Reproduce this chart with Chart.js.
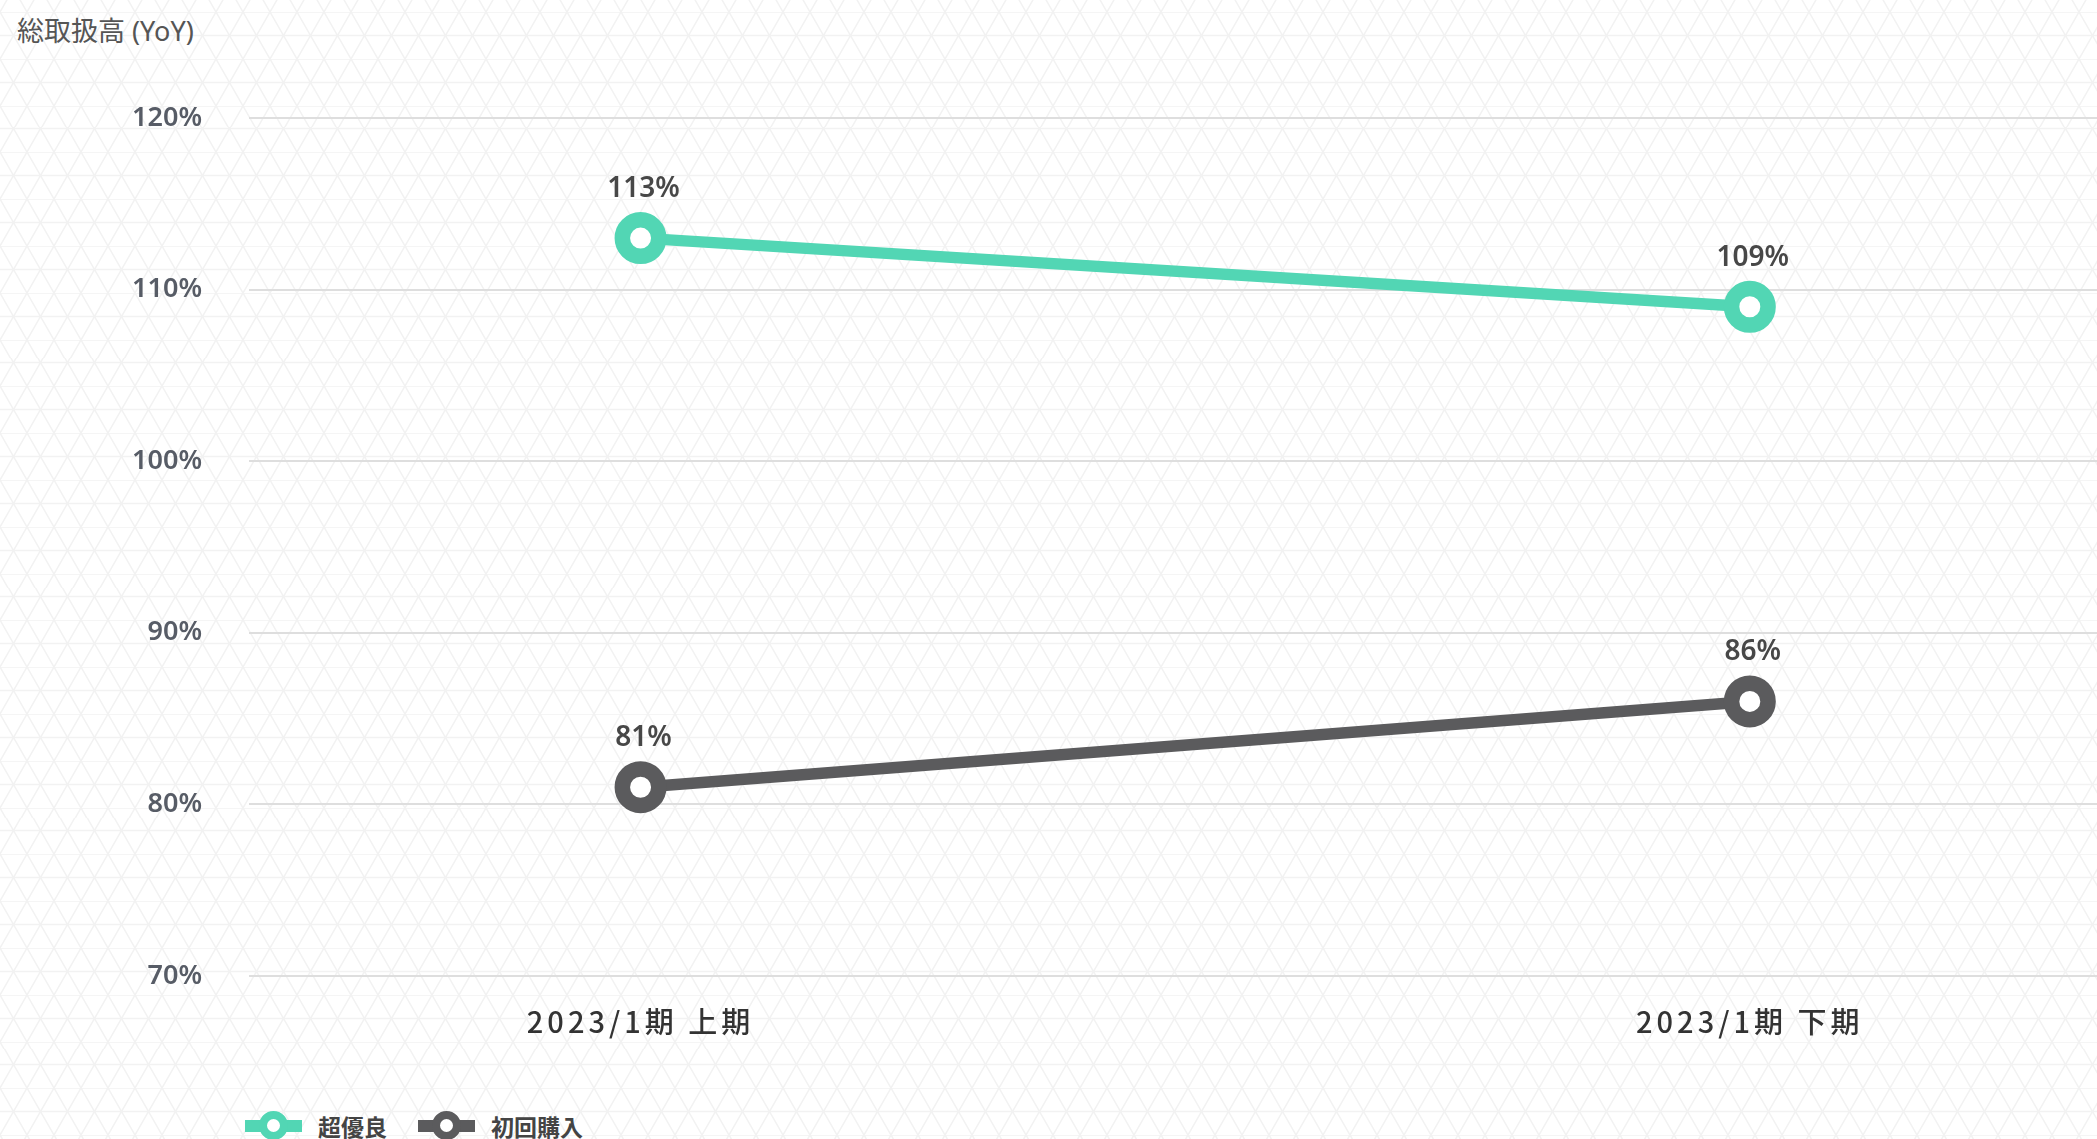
<!DOCTYPE html>
<html lang="ja">
<head>
  <meta charset="UTF-8">
  <meta name="viewport" content="width=device-width, initial-scale=1.0">
  <script src="https://cdn.jsdelivr.net/npm/chart.js"></script>
  <title>総取扱高 (YoY)</title>
  <style>
    html, body { margin: 0; padding: 0; overflow: hidden; }
    body {
      width: 2097px; height: 1139px;
      background-color: #fff;
      background-image: url("data:image/svg+xml,%3Csvg xmlns='http://www.w3.org/2000/svg' width='27' height='46.8'%3E%3Cpath d='M0 0H27M0 23.4H27M0 0L27 46.8M27 0L0 46.8' stroke='%23f2f2f2' stroke-width='1.5' fill='none'/%3E%3C/svg%3E");
      background-position: 0 12px;
      font-family: "Noto Sans", "Noto Sans CJK JP", sans-serif;
    }
    .wrap { position: relative; width: 2097px; height: 1139px; }
    #title { position: absolute; left: 17px; top: 12px; font-size: 27px; line-height: 38px; color: #555; }
    #chart { position: absolute; left: 0; top: 0; }
    #legend { position: absolute; left: 245px; top: 1111px; display: flex; align-items: center; }
    .item { display: flex; align-items: center; margin-right: 31px; }
    .mark { position: relative; width: 57px; height: 30px; margin-right: 16px; }
    .mark .bar { position: absolute; left: 0; right: 0; top: 9px; height: 12px; }
    .mark .dot { position: absolute; left: 13.5px; top: 0; width: 13px; height: 13px; border: 8.5px solid; border-radius: 50%; background: #fff; }
    .item span { font-family: "Noto Sans CJK JP", sans-serif; font-size: 23px; line-height: 30px; font-weight: 700; color: #444; }
  </style>
</head>
<body>
  <div class="wrap">
    <div id="title">総取扱高 (YoY)</div>
    <canvas id="chart" width="2097" height="1060"></canvas>
    <div id="legend"></div>
  </div>
  <script>
    const categories = ['2023/1期 上期', '2023/1期 下期']
    const seriesNames = ['超優良', '初回購入']
    const superGood = [113, 109]
    const firstPurchase = [81, 86]
    const yTicks = [70, 80, 90, 100, 110, 120]
    const colors = ['#52d6b4', '#5b5b5d']

    const numFont = '"Noto Sans", "Noto Sans CJK JP", sans-serif'

    // value text above every point
    const valueLabels = {
      id: 'valueLabels',
      afterDatasetsDraw(chart) {
        const ctx = chart.ctx
        ctx.save()
        ctx.font = '600 28px ' + numFont
        ctx.fillStyle = '#474747'
        ctx.textAlign = 'center'
        ctx.textBaseline = 'middle'
        chart.data.datasets.forEach((ds, di) => {
          chart.getDatasetMeta(di).data.forEach((pt, i) => {
            ctx.fillText(ds.data[i].y + '%', pt.x + 3, pt.y - 49)
          })
        })
        ctx.restore()
      }
    }

    // spread out the category labels a little
    const spacedTicks = {
      id: 'spacedTicks',
      beforeDraw(chart) {
        const sx = chart.scales.x
        if (sx.$spaced) return
        const draw = sx.drawLabels
        sx.drawLabels = function (area) {
          this.ctx.save()
          this.ctx.letterSpacing = '4px'
          draw.call(this, area)
          this.ctx.restore()
        }
        sx.$spaced = true
      }
    }

    function series(values, i) {
      return {
        label: seriesNames[i],
        data: values.map((v, x) => ({ x, y: v })),
        borderColor: colors[i],
        borderWidth: 11.5,
        tension: 0,
        pointRadius: 18.25,
        pointHoverRadius: 18.25,
        pointBorderWidth: 15.5,
        pointBorderColor: colors[i],
        pointBackgroundColor: '#fff'
      }
    }

    new Chart(document.getElementById('chart'), {
      type: 'line',
      data: { datasets: [series(superGood, 0), series(firstPurchase, 1)] },
      options: {
        responsive: false,
        animation: false,
        layout: { autoPadding: false, padding: { top: 118, bottom: 14, left: 0, right: 0 } },
        plugins: { legend: { display: false }, tooltip: { enabled: false } },
        scales: {
          x: {
            type: 'linear',
            min: -0.353,
            max: 1.313,
            afterBuildTicks: s => { s.ticks = categories.map((c, i) => ({ value: i })) },
            afterFit: s => { s.height = 70; s.paddingLeft = 0; s.paddingRight = 0 },
            grid: { display: false, drawTicks: false },
            border: { display: false },
            ticks: {
              padding: 29,
              autoSkip: false,
              maxRotation: 0,
              color: '#333',
              font: { family: '"Noto Sans CJK JP", sans-serif', size: 29, weight: 500 },
              callback: v => categories[v]
            }
          },
          y: {
            min: yTicks[0],
            max: yTicks[yTicks.length - 1],
            afterBuildTicks: s => { s.ticks = yTicks.map(v => ({ value: v })) },
            afterFit: s => { s.width = 249 },
            grid: { color: '#dedede', lineWidth: 2, drawTicks: false },
            border: { display: false },
            ticks: {
              padding: 47,
              color: '#575c66',
              font: { family: numFont, size: 27, weight: 600 },
              callback: v => v + '%'
            }
          }
        }
      },
      plugins: [valueLabels, spacedTicks]
    })

    // legend under the chart
    const legend = document.getElementById('legend')
    seriesNames.forEach((name, i) => {
      const item = document.createElement('div')
      item.className = 'item'
      item.innerHTML = '<div class="mark"><div class="bar"></div><div class="dot"></div></div><span></span>'
      item.querySelector('.bar').style.background = colors[i]
      item.querySelector('.dot').style.borderColor = colors[i]
      item.querySelector('span').textContent = name
      legend.appendChild(item)
    })
  </script>
</body>
</html>
